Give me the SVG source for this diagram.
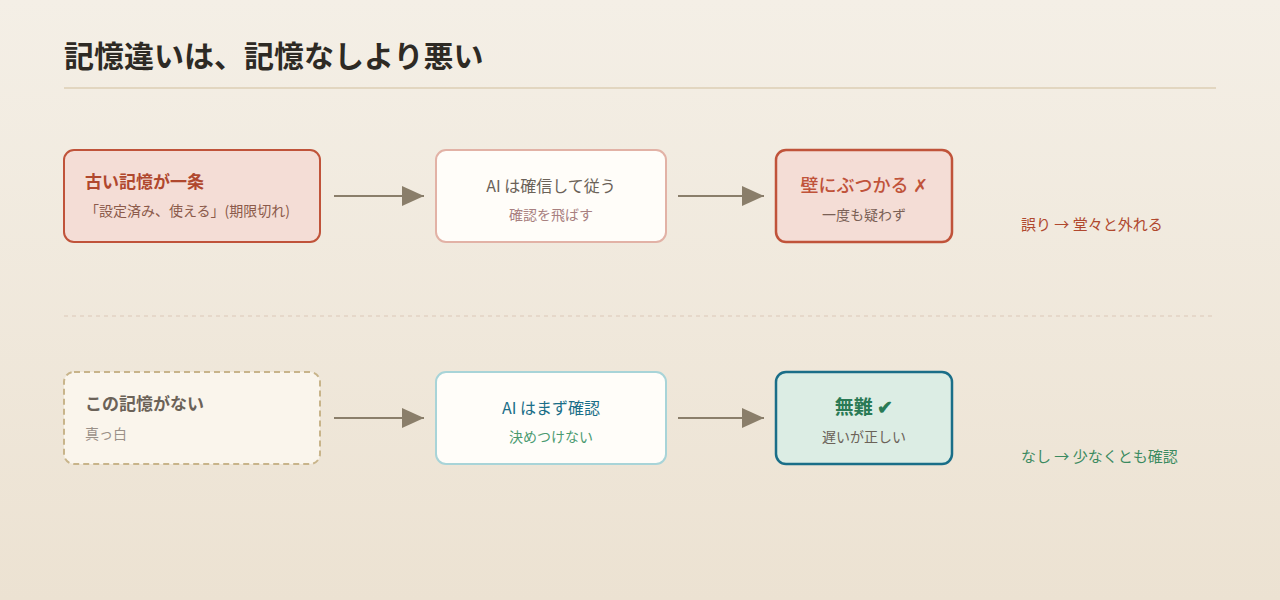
<svg xmlns="http://www.w3.org/2000/svg" width="1280" height="600" viewBox="0 0 1280 600">
<defs>
<linearGradient id="bg" x1="0" y1="0" x2="0" y2="1">
<stop offset="0" stop-color="#f4efe6"/>
<stop offset="1" stop-color="#ece2d2"/>
</linearGradient>
<marker id="ah" viewBox="0 0 22 20" refX="22" refY="10" markerWidth="22" markerHeight="20" markerUnits="userSpaceOnUse" orient="auto">
<path d="M0,0 L22,10 L0,20 Z" fill="#8a7e6a"/>
</marker>
<style>
text{font-family:"Noto Sans CJK JP","Noto Sans",sans-serif}
.t{font-size:17px;font-weight:700}
.s{font-size:14px}
.c{text-anchor:middle}
.conn line{stroke:#8a7e6a;stroke-width:2;marker-end:url(#ah)}
</style>
</defs>
<rect width="1280" height="600" fill="url(#bg)"/>
<text x="64" y="67" font-size="30" font-weight="700" fill="#2e2a24">記憶違いは、記憶なしより悪い</text>
<line x1="64" y1="88" x2="1216" y2="88" stroke="#e2d6c0" stroke-width="2"/>
<line x1="64" y1="316" x2="1216" y2="316" stroke="#e2d2c4" stroke-width="1.5" stroke-dasharray="4 4"/>

<g id="n1">
<rect x="64" y="150" width="256" height="92" rx="10" fill="#f4ddd6" stroke="#c0533a" stroke-width="2"/>
<text x="85" y="188" class="t" fill="#b0482e">古い記憶が一条</text>
<text x="85" y="216" class="s" fill="#8b5a4a">「設定済み、使える」(期限切れ)</text>
</g>
<g id="n2">
<rect x="436" y="150" width="230" height="92" rx="10" fill="#fffdf9" stroke="#e2b2a6" stroke-width="2"/>
<text x="551" y="192" class="c" font-size="16" fill="#6b6258">AI は確信して従う</text>
<text x="551" y="220" class="c s" fill="#a88080">確認を飛ばす</text>
</g>
<g id="n3">
<rect x="776" y="150" width="176" height="92" rx="10" fill="#f4ddd6" stroke="#c0533a" stroke-width="2.5"/>
<text x="864" y="192" class="c" font-size="18" font-weight="500" fill="#c0533a">壁にぶつかる ✗</text>
<text x="864" y="220" class="c s" fill="#7a6055">一度も疑わず</text>
</g>
<g id="l1">
<text x="1021" y="230" font-size="15" fill="#b0482e">誤り → 堂々と外れる</text>
</g>

<g id="n4">
<rect x="64" y="372" width="256" height="92" rx="10" fill="#faf5ec" stroke="#c8b48a" stroke-width="2" stroke-dasharray="6 4"/>
<text x="85" y="410" class="t" fill="#6b6258">この記憶がない</text>
<text x="85" y="439" class="s" fill="#9a9088">真っ白</text>
</g>
<g id="n5">
<rect x="436" y="372" width="230" height="92" rx="10" fill="#fffdf9" stroke="#a8d4d8" stroke-width="2"/>
<text x="551" y="414" class="c" font-size="16" fill="#1a6e88">AI はまず確認</text>
<text x="551" y="442" class="c s" fill="#4a9a70">決めつけない</text>
</g>
<g id="n6">
<rect x="776" y="372" width="176" height="92" rx="10" fill="#dcede4" stroke="#1a6e88" stroke-width="2.5"/>
<text x="864" y="414" class="c" font-size="19" font-weight="700" fill="#2a7a55">無難 ✔</text>
<text x="864" y="442" class="c s" fill="#6b6258">遅いが正しい</text>
</g>
<g id="l2">
<text x="1021" y="462" font-size="15" fill="#3a8a60">なし → 少なくとも確認</text>
</g>

<g class="conn" id="connectors">
<line x1="334" y1="196" x2="424" y2="196"/>
<line x1="678" y1="196" x2="764" y2="196"/>
<line x1="334" y1="418" x2="424" y2="418"/>
<line x1="678" y1="418" x2="764" y2="418"/>
</g>
</svg>
